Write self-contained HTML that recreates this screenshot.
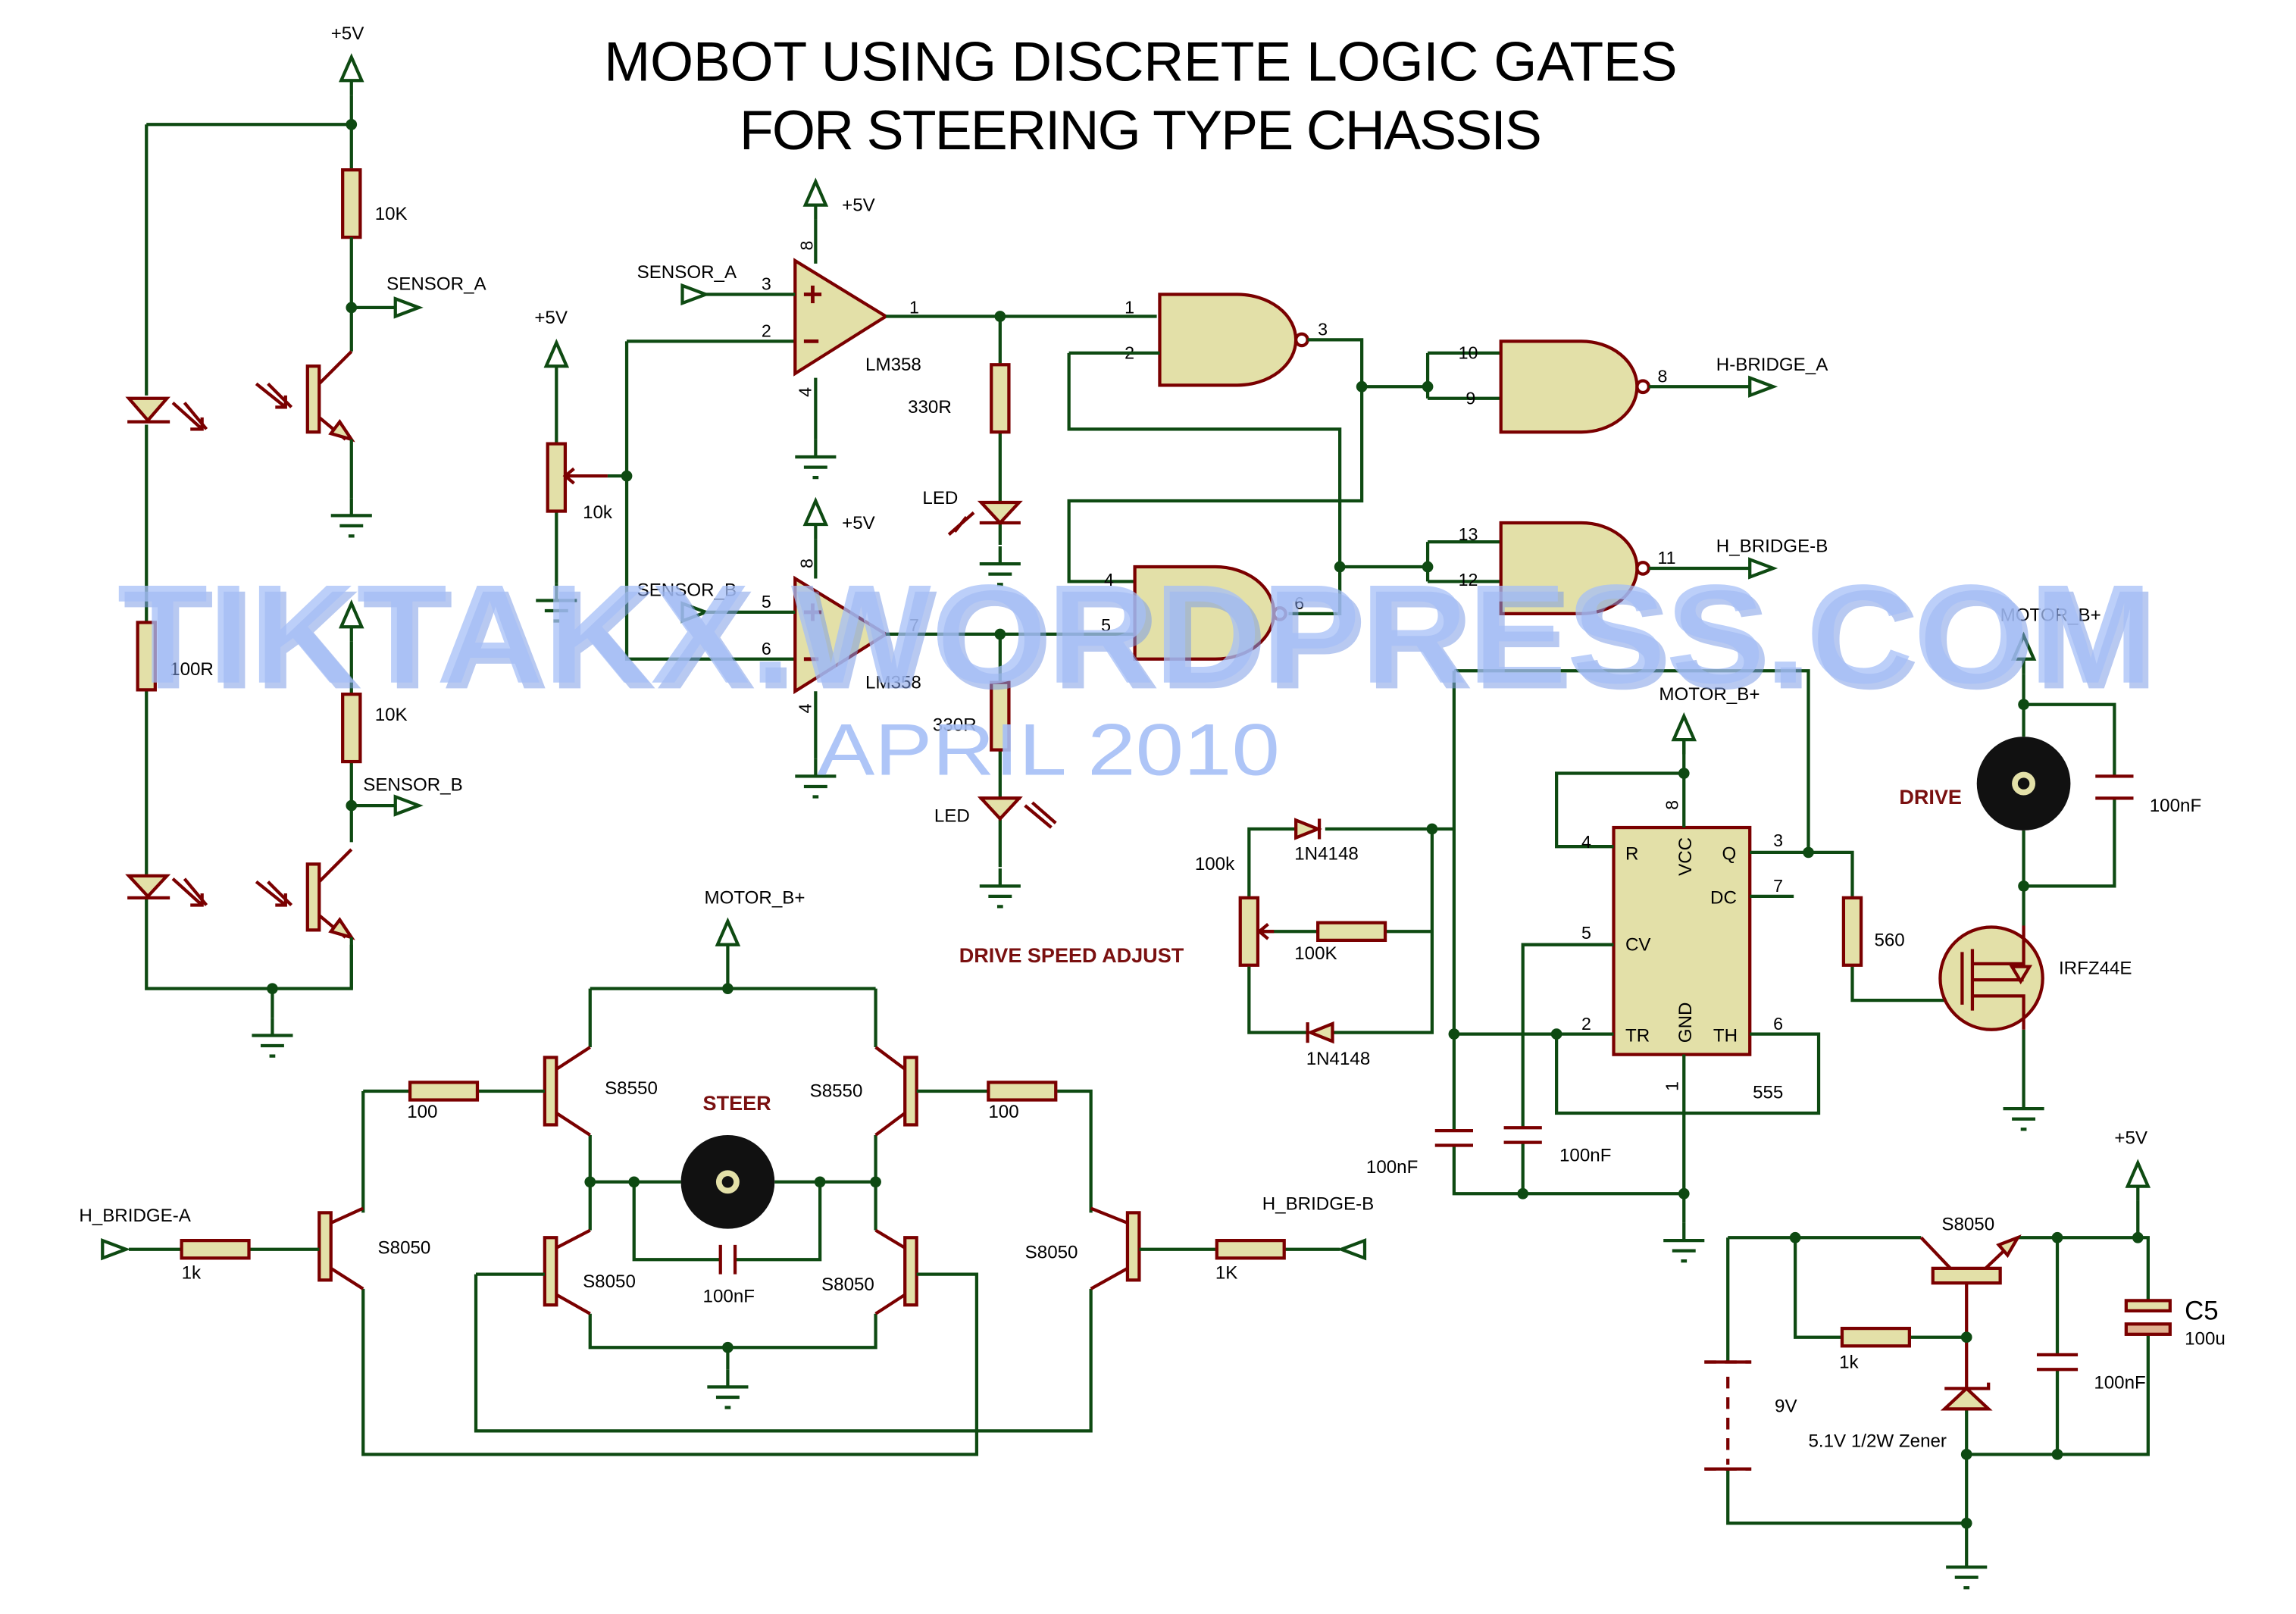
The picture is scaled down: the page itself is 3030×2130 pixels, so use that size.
<!DOCTYPE html>
<html><head><meta charset="utf-8"><style>
html,body{margin:0;padding:0;background:#fff;}
svg{display:block}
.w{stroke:#0e4a12;stroke-width:2.2;fill:none}
.r{stroke:#7a0000;stroke-width:2.2;fill:none}
.c{stroke:#7a0000;stroke-width:2.2;fill:#e3e0a8}
.d{fill:#0e4a12}
.p{stroke:#0e4a12;stroke-width:2.2;fill:#fff}
text{font-family:"Liberation Sans",sans-serif;font-size:12.5px;fill:#000}
.n{font-size:12px}
.b{font-weight:bold;fill:#7a1010;font-size:14px}
</style></head><body>
<svg width="3030" height="2130" viewBox="0 0 1568 1102" preserveAspectRatio="none" xmlns="http://www.w3.org/2000/svg">
<defs>
<g id="gnd"><path class="w" d="M0 -12V0M-14 0H14M-8 7H8M-2 14H2"/></g>
<g id="pwr"><path class="p" d="M-7 0L0 -16L7 0Z"/><path class="w" d="M0 0V10"/></g>
<g id="dot"><circle r="3.8" class="d"/></g>
<g id="rv"><rect x="-6" y="-23" width="12" height="46" class="c"/></g>
<g id="rh"><rect x="-23" y="-6" width="46" height="12" class="c"/></g>
</defs>
<rect width="1568" height="1102" fill="#fff"/>

<!-- title -->
<text x="780" y="55" text-anchor="middle" style="font-size:38px;letter-spacing:2px" textLength="735">MOBOT USING DISCRETE LOGIC GATES</text>
<text x="780" y="102" text-anchor="middle" style="font-size:38px;letter-spacing:2px" textLength="550">FOR STEERING TYPE CHASSIS</text>

<!-- LEFT SENSOR SECTION -->
<use href="#pwr" x="240" y="55"/><text x="226" y="27">+5V</text>
<path class="w" d="M240 65V115M100 85H240M100 85V270M100 290V425M100 472V597M100 613V675H240V645M186 675V695"/>
<use href="#dot" x="240" y="85"/><use href="#dot" x="186" y="675"/>
<use href="#gnd" x="186" y="707"/>
<use href="#rv" x="240" y="139"/><text x="256" y="150">10K</text>
<path class="w" d="M240 162V240M240 210H270"/><use href="#dot" x="240" y="210"/>
<path class="p" d="M270 204L286 210L270 216Z"/><text x="264" y="198">SENSOR_A</text>
<rect x="210" y="250" width="8" height="45" class="c"/>
<path class="r" d="M218 262L240 240M218 285L236 300"/><path class="c" d="M240 300L226 296L232 288Z"/>
<path class="w" d="M240 300V340"/><use href="#gnd" x="240" y="352"/>
<path class="r" d="M175 262L195 278M183 262L199 278M195 270V278H188"/>
<path class="c" d="M88 272H114L101 287Z"/><path class="r" d="M87 288H116M118 275L138 293M126 275L141 293M138 285V293H130"/>
<use href="#rv" x="100" y="448"/><text x="116" y="461">100R</text>
<path class="c" d="M88 598H114L101 612Z"/><path class="r" d="M87 613H116M118 600L138 618M126 600L141 618M138 610V618H130"/>
<use href="#pwr" x="240" y="428"/>
<path class="w" d="M240 438V474M240 520V575M240 550H270"/><use href="#rv" x="240" y="497"/><text x="256" y="492">10K</text>
<use href="#dot" x="240" y="550"/><path class="p" d="M270 544L286 550L270 556Z"/><text x="248" y="540">SENSOR_B</text>
<rect x="210" y="590" width="8" height="45" class="c"/>
<path class="r" d="M218 602L240 580M218 625L236 640"/><path class="c" d="M240 640L226 636L232 628Z"/>
<path class="w" d="M240 640V675"/>
<path class="r" d="M175 602L195 618M183 602L199 618M195 610V618H188"/>

<!-- POT -->
<use href="#pwr" x="380" y="250"/><text x="365" y="221">+5V</text>
<path class="w" d="M380 260V302M380 350V398"/><use href="#rv" x="380" y="326"/><use href="#gnd" x="380" y="410"/>
<path class="r" d="M386 325H415M392 320L386 325L392 330"/><text x="398" y="354">10k</text>
<path class="w" d="M415 325H428M428 233V450H543M428 233H543"/><use href="#dot" x="428" y="325"/>

<!-- OPAMP 1 -->
<use href="#pwr" x="557" y="140"/><text x="575" y="144">+5V</text>
<path class="w" d="M557 150V180M557 258V300"/><use href="#gnd" x="557" y="312"/>
<text x="548" y="172" class="n" transform="rotate(-90 551 168)">8</text><text x="548" y="271" class="n" transform="rotate(-90 551 268)">4</text>
<path class="c" d="M543 178V255L605 216Z"/>
<path class="r" d="M549 201H561M555 195V207M549 233H559" style="stroke-width:2.5"/>
<path class="w" d="M482 201H543"/><path class="p" d="M466 195L482 201L466 207Z"/><text x="435" y="190">SENSOR_A</text>
<text x="520" y="198" class="n">3</text><text x="520" y="230" class="n">2</text><text x="621" y="214" class="n">1</text>
<text x="591" y="253">LM358</text>
<path class="w" d="M605 216H790M683 216V248M683 295V343M683 357V372"/><use href="#dot" x="683" y="216"/>
<use href="#rv" x="683" y="272"/><text x="620" y="282">330R</text>
<path class="c" d="M670 343H696L683 357Z"/><path class="r" d="M669 357H697M665 350L648 365M660 353L652 363"/>
<text x="630" y="344">LED</text><use href="#gnd" x="683" y="385"/>

<!-- OPAMP 2 -->
<use href="#pwr" x="557" y="358"/><text x="575" y="361">+5V</text>
<path class="w" d="M557 368V395M557 472V518"/><use href="#gnd" x="557" y="530"/>
<text x="548" y="389" class="n" transform="rotate(-90 551 385)">8</text><text x="548" y="487" class="n" transform="rotate(-90 551 484)">4</text>
<path class="c" d="M543 395V472L605 433Z"/>
<path class="r" d="M549 418H561M555 412V424M549 450H559" style="stroke-width:2.5"/>
<path class="w" d="M482 418H543"/><path class="p" d="M466 412L482 418L466 424Z"/><text x="435" y="407">SENSOR_B</text>
<text x="520" y="415" class="n">5</text><text x="520" y="447" class="n">6</text><text x="621" y="431" class="n">7</text>
<text x="591" y="470">LM358</text>
<path class="w" d="M605 433H775M683 433V465M683 512V545M683 559V592"/><use href="#dot" x="683" y="433"/>
<use href="#rv" x="683" y="489"/><text x="637" y="499">330R</text>
<path class="c" d="M670 545H696L683 559Z"/><path class="r" d="M669 545H697M700 550L718 565M705 548L721 562"/>
<text x="638" y="561">LED</text><use href="#gnd" x="683" y="605"/>

<!-- NAND GATES -->
<path class="c" d="M792 201H845A40 31 0 0 1 845 263H792Z"/><circle cx="889" cy="232" r="4" class="c" style="fill:#fff"/>
<text x="768" y="214" class="n">1</text><text x="768" y="245" class="n">2</text><text x="900" y="229" class="n">3</text>
<path class="w" d="M893 232H930V342H730V397H775M730 241H792M730 241V293H915V419H880M930 264H975M975 241V272M975 241H1025M975 272H1025M915 387H975M975 370V397M975 370H1025M975 397H1025"/>
<use href="#dot" x="930" y="264"/><use href="#dot" x="975" y="264"/><use href="#dot" x="915" y="387"/><use href="#dot" x="975" y="387"/>
<path class="c" d="M775 387H830A40 31.5 0 0 1 830 450H775Z"/><circle cx="874" cy="419" r="4" class="c" style="fill:#fff"/>
<text x="754" y="400" class="n">4</text><text x="752" y="431" class="n">5</text><text x="884" y="416" class="n">6</text>
<path class="c" d="M1025 233H1080A38 31 0 0 1 1080 295H1025Z"/><circle cx="1122" cy="264" r="4" class="c" style="fill:#fff"/>
<path class="c" d="M1025 357H1080A38 31 0 0 1 1080 419H1025Z"/><circle cx="1122" cy="388" r="4" class="c" style="fill:#fff"/>
<text x="996" y="245" class="n">10</text><text x="1001" y="276" class="n">9</text><text x="1132" y="261" class="n">8</text>
<text x="996" y="369" class="n">13</text><text x="996" y="400" class="n">12</text><text x="1132" y="385" class="n">11</text>
<path class="w" d="M1126 264H1195M1126 388H1195"/>
<path class="p" d="M1195 258L1211 264L1195 270Z"/><path class="p" d="M1195 382L1211 388L1195 394Z"/>
<text x="1172" y="253">H-BRIDGE_A</text><text x="1172" y="377">H_BRIDGE-B</text>

<!-- 555 SECTION -->
<rect x="1102" y="565" width="93" height="155" class="c"/>
<text x="1110" y="587">R</text><text x="1176" y="587">Q</text><text x="1168" y="617">DC</text><text x="1110" y="649">CV</text>
<text x="1110" y="711">TR</text><text x="1170" y="711">TH</text>
<text x="1155" y="598" transform="rotate(-90 1155 598)">VCC</text><text x="1155" y="712" transform="rotate(-90 1155 712)">GND</text>
<text x="1197" y="750">555</text>
<path class="w" d="M1150 565V505M1150 528H1063V578H1102M1195 582H1265V612M1195 612H1225M1102 645H1040V770M1102 706H993M993 458V772M993 458H1235V582M1195 706H1242V760H1063V706M1150 720V835M993 782V815H1150M1040 780V815"/>
<use href="#pwr" x="1150" y="505"/><text x="1133" y="478">MOTOR_B+</text>
<use href="#dot" x="1150" y="528"/><use href="#dot" x="1235" y="582"/><use href="#dot" x="993" y="706"/><use href="#dot" x="1063" y="706"/>
<use href="#dot" x="1150" y="815"/><use href="#dot" x="1040" y="815"/><use href="#gnd" x="1150" y="847"/>
<text x="1137" y="552" class="n" transform="rotate(-90 1142 548)">8</text><text x="1137" y="744" class="n" transform="rotate(-90 1142 740)">1</text>
<text x="1080" y="579" class="n">4</text><text x="1211" y="578" class="n">3</text><text x="1211" y="609" class="n">7</text><text x="1080" y="641" class="n">5</text><text x="1080" y="703" class="n">2</text><text x="1211" y="703" class="n">6</text>
<path class="r" d="M980 772H1006M980 782H1006M1027 770H1053M1027 780H1053"/>
<text x="933" y="801">100nF</text><text x="1065" y="793">100nF</text>
<!-- pot & diodes -->
<use href="#rv" x="853" y="636"/>
<path class="w" d="M853 612V566H885M905 566H993M853 660V705H893M910 705H978V566M947 636H978M862 636H900"/>
<use href="#dot" x="978" y="566"/>
<path class="c" d="M885 560V572L900 566Z"/><path class="r" d="M901 559V573"/>
<path class="c" d="M910 699V711L895 705Z"/><path class="r" d="M893 698V712"/>
<use href="#rh" x="923" y="636"/><path class="r" d="M860 636H870M866 631L860 636L866 641"/>
<text x="884" y="587">1N4148</text><text x="892" y="727">1N4148</text><text x="816" y="594">100k</text><text x="884" y="655">100K</text>
<text x="655" y="657" class="b">DRIVE SPEED ADJUST</text>

<!-- MOTOR DRIVE -->
<use href="#pwr" x="1382" y="450"/><text x="1366" y="424">MOTOR_B+</text>
<path class="w" d="M1382 460V503M1382 481H1444V530M1444 545V605H1382M1382 567V632M1382 703V745M1265 660V683H1335"/>
<use href="#dot" x="1382" y="481"/><use href="#dot" x="1382" y="605"/>
<path class="r" d="M1431 530H1457M1431 545H1457"/>
<circle cx="1382" cy="535" r="32" fill="#111"/><circle cx="1382" cy="535" r="8" fill="#e3e0a8"/><circle cx="1382" cy="535" r="4" fill="#111"/>
<use href="#rv" x="1265" y="636"/><text x="1280" y="646">560</text>
<circle cx="1360" cy="668" r="35" class="c"/>
<path class="r" d="M1340 650V686M1347 648V690M1347 658H1382V632M1347 680H1382V703M1347 669H1382" />
<path class="c" d="M1374 660L1386 660L1380 670Z"/>
<text x="1406" y="665">IRFZ44E</text><text x="1297" y="549" class="b">DRIVE</text><text x="1468" y="554">100nF</text>
<use href="#gnd" x="1382" y="757"/>

<!-- REGULATOR -->
<use href="#pwr" x="1460" y="810"/><text x="1444" y="781">+5V</text>
<path class="w" d="M1460 820V845M1180 845H1312M1378 845H1467V888M1467 911V993H1343M1226 845V913H1258M1305 913H1343M1405 845V925M1405 935V993M1343 962V1040H1180V1003M1180 845V930M1343 1040V1058"/>
<path class="r" d="M1312 845L1332 866M1356 866L1378 845M1343 876V948"/>
<path class="c" d="M1378 845L1365 850L1371 857Z"/>
<rect x="1320" y="866" width="46" height="10" class="c"/>
<use href="#dot" x="1226" y="845"/><use href="#dot" x="1405" y="845"/><use href="#dot" x="1460" y="845"/><use href="#dot" x="1343" y="913"/><use href="#dot" x="1343" y="993"/><use href="#dot" x="1405" y="993"/><use href="#dot" x="1343" y="1040"/>
<use href="#rh" x="1281" y="913"/>
<path class="c" d="M1328 962H1358L1343 948Z"/><path class="r" d="M1328 948H1358V944"/>
<path class="r" d="M1391 925H1419M1391 935H1419"/>
<rect x="1452" y="888" width="30" height="7" class="c"/><rect x="1452" y="904" width="30" height="7" class="c" style="fill:#e0b090"/>
<path class="r" d="M1164 930H1196M1180 940V1000M1164 1003H1196" style="stroke-dasharray:8 6"/><path class="r" d="M1164 930H1196M1164 1003H1196"/>
<text x="1326" y="840">S8050</text><text x="1256" y="934">1k</text><text x="1212" y="964">9V</text><text x="1235" y="988">5.1V 1/2W Zener</text>
<text x="1430" y="948">100nF</text><text x="1492" y="901" style="font-size:18px">C5</text><text x="1492" y="918">100u</text>
<use href="#gnd" x="1343" y="1070"/>

<!-- H-BRIDGE -->
<use href="#pwr" x="497" y="645"/><text x="481" y="617">MOTOR_B+</text>
<path class="w" d="M497 655V675M403 675H598M403 675V715M598 675V715M403 775V840M598 775V840M403 807H465M529 807H598M433 807V860H492M502 860H560V807M403 897V920H598V897M497 920V935"/>
<use href="#dot" x="497" y="675"/><use href="#dot" x="403" y="807"/><use href="#dot" x="598" y="807"/><use href="#dot" x="433" y="807"/><use href="#dot" x="560" y="807"/><use href="#dot" x="497" y="920"/>
<use href="#gnd" x="497" y="947"/>
<path class="r" d="M492 850V870M502 850V870"/>
<circle cx="497" cy="807" r="32" fill="#111"/><circle cx="497" cy="807" r="8" fill="#e3e0a8"/><circle cx="497" cy="807" r="4" fill="#111"/>
<!-- top PNPs -->
<rect x="372" y="722" width="8" height="46" class="c"/><path class="r" d="M380 730L403 715M380 760L403 775"/>
<rect x="618" y="722" width="8" height="46" class="c"/><path class="r" d="M618 730L598 715M618 760L598 775"/>
<path class="w" d="M248 745H280M326 745H372M248 745V828M626 745H675M722 745H745V828"/>
<use href="#rh" x="303" y="745"/><use href="#rh" x="698" y="745"/>
<!-- bottom NPNs -->
<rect x="372" y="845" width="8" height="46" class="c"/><path class="r" d="M380 852L403 840M380 884L403 897"/>
<rect x="618" y="845" width="8" height="46" class="c"/><path class="r" d="M618 852L598 840M618 884L598 897"/>
<path class="w" d="M325 870H372M325 870V977H745V880M626 870H667V993H248V880"/>
<!-- outer NPNs -->
<rect x="218" y="828" width="8" height="46" class="c"/><path class="r" d="M226 835L248 825M226 866L248 880"/>
<rect x="770" y="828" width="8" height="46" class="c"/><path class="r" d="M770 835L745 825M770 866L745 880"/>
<path class="w" d="M88 853H124M170 853H218M778 853H830M877 853H915"/>
<use href="#rh" x="147" y="853"/><use href="#rh" x="854" y="853"/>
<path class="p" d="M70 847L86 853L70 859Z"/><path class="p" d="M932 847L916 853L932 859Z"/>
<text x="413" y="747">S8550</text><text x="553" y="749">S8550</text><text x="480" y="758" class="b">STEER</text>
<text x="278" y="763">100</text><text x="675" y="763">100</text><text x="480" y="889">100nF</text>
<text x="398" y="879">S8050</text><text x="561" y="881">S8050</text><text x="258" y="856">S8050</text><text x="700" y="859">S8050</text>
<text x="124" y="873">1k</text><text x="830" y="873">1K</text><text x="54" y="834">H_BRIDGE-A</text><text x="862" y="826">H_BRIDGE-B</text>

<!-- watermark -->
<text x="84" y="470" textLength="1390" lengthAdjust="spacingAndGlyphs" style="font-size:96px;font-weight:bold;fill:#7f9de6;opacity:0.55">TIKTAKX.WORDPRESS.COM</text>
<text x="80" y="466" textLength="1390" lengthAdjust="spacingAndGlyphs" style="font-size:96px;font-weight:bold;fill:#a6bff7;opacity:0.75">TIKTAKX.WORDPRESS.COM</text>
<text x="558" y="529" textLength="316" lengthAdjust="spacingAndGlyphs" style="font-size:50px;fill:#a6bff7;opacity:0.9">APRIL 2010</text>
</svg>
</body></html>
